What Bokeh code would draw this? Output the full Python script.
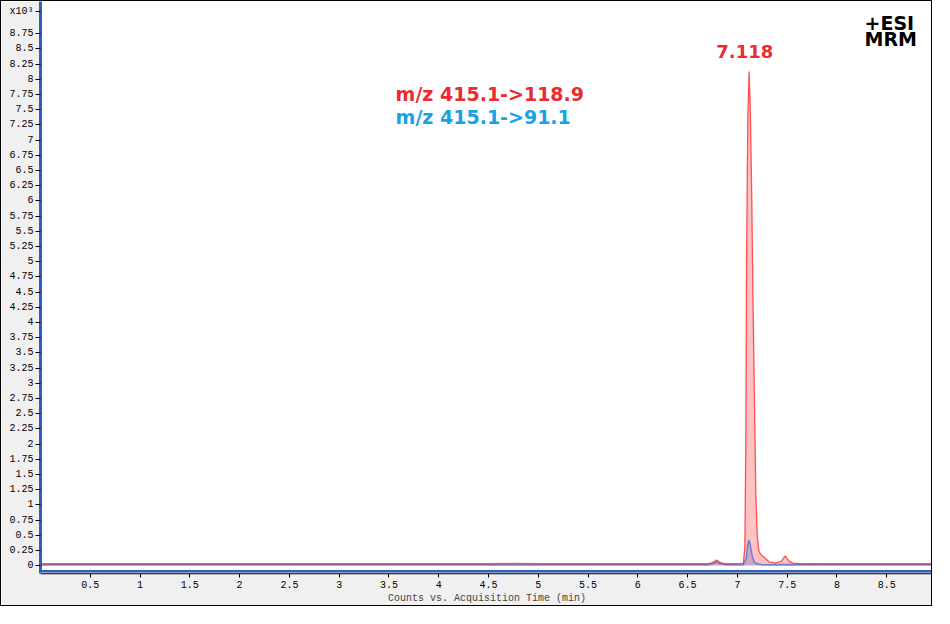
from bokeh.plotting import figure
from bokeh.models import (Label, Span, BoxAnnotation, FixedTicker,
                          CustomJSTickFormatter, ColumnDataSource)
from bokeh.embed import file_html
from bokeh.resources import INLINE

# ---------------- data (counts x10^3 vs time, min) ----------------
time_red = [0.0, 0.5, 1.0, 1.5, 2.0, 2.5, 3.0, 3.5, 4.0, 4.5, 4.75, 5.0, 5.5, 6.0,
            6.5, 6.7, 6.75, 6.79, 6.83, 6.88, 7.0, 7.06, 7.075, 7.085, 7.092,
            7.105, 7.118, 7.13, 7.145, 7.158, 7.17, 7.185, 7.2, 7.215, 7.235,
            7.26, 7.28, 7.32, 7.38, 7.44, 7.48, 7.52, 7.56, 7.65, 8.0, 8.5, 8.97]
counts_red = [0.03, 0.03, 0.03, 0.03, 0.03, 0.03, 0.03, 0.03, 0.03, 0.03, 0.035, 0.03, 0.03, 0.03,
              0.03, 0.03, 0.05, 0.09, 0.05, 0.03, 0.03, 0.04, 0.3, 2.0, 5.0,
              7.4, 8.13, 7.5, 6.0, 4.2, 2.9, 1.2, 0.5, 0.25, 0.18,
              0.15, 0.12, 0.06, 0.04, 0.07, 0.16, 0.07, 0.04, 0.03, 0.03, 0.03, 0.03]

time_blue = [0.0, 1.0, 2.0, 3.0, 4.0, 5.0, 6.0, 6.7, 6.75, 6.79, 6.83, 6.9, 7.06,
             7.09, 7.105, 7.117, 7.13, 7.15, 7.17, 7.2, 7.25, 7.5, 8.0, 8.97]
counts_blue = [0.015, 0.015, 0.015, 0.015, 0.015, 0.015, 0.015, 0.015, 0.03, 0.06, 0.03, 0.015, 0.015,
               0.12, 0.35, 0.42, 0.33, 0.15, 0.06, 0.03, 0.015, 0.02, 0.015, 0.015]

x_ticks = [0.5, 1, 1.5, 2, 2.5, 3, 3.5, 4, 4.5, 5, 5.5, 6, 6.5, 7, 7.5, 8, 8.5]
x_tick_labels = ["0.5", "1", "1.5", "2", "2.5", "3", "3.5", "4", "4.5", "5", "5.5",
                 "6", "6.5", "7", "7.5", "8", "8.5"]
y_ticks = [0, 0.25, 0.5, 0.75, 1, 1.25, 1.5, 1.75, 2, 2.25, 2.5, 2.75, 3, 3.25, 3.5,
           3.75, 4, 4.25, 4.5, 4.75, 5, 5.25, 5.5, 5.75, 6, 6.25, 6.5, 6.75, 7, 7.25,
           7.5, 7.75, 8, 8.25, 8.5, 8.75]
y_tick_labels = ["0", "0.25", "0.5", "0.75", "1", "1.25", "1.5", "1.75", "2", "2.25",
                 "2.5", "2.75", "3", "3.25", "3.5", "3.75", "4", "4.25", "4.5", "4.75",
                 "5", "5.25", "5.5", "5.75", "6", "6.25", "6.5", "6.75", "7", "7.25",
                 "7.5", "7.75", "8", "8.25", "8.5", "8.75"]
# axis multiplier shown at the top of the y axis
scale_tick = [9.12]
scale_label = ["x10\u00b3"]

peak_rt = "7.118"
trace_names = ["m/z 415.1->118.9", "m/z 415.1->91.1"]
mode_texts = ["+ESI", "MRM"]

# ---------------- figure ----------------
MONO = "Liberation Mono"
BOLD = "DejaVu Sans"

p = figure(width=932, height=606, x_range=(0, 8.97), y_range=(-0.13, 9.28),
           output_backend="svg", toolbar_location=None,
           min_border_left=39, min_border_right=0, min_border_top=0, min_border_bottom=34)
p.styles = {"border": "1px solid #000000"}
p.border_fill_color = "#f0f0f0"
p.background_fill_color = "#ffffff"
p.outline_line_color = None
p.grid.visible = False

fmt_js = ("const i = tv.findIndex(t => Math.abs(t - tick) < 1e-9);"
          "return i >= 0 ? tl[i] : '';")

p.xaxis.ticker = FixedTicker(ticks=x_ticks)
p.xaxis.formatter = CustomJSTickFormatter(args=dict(tv=x_ticks, tl=x_tick_labels), code=fmt_js)
p.yaxis.ticker = FixedTicker(ticks=y_ticks + scale_tick)
p.yaxis.formatter = CustomJSTickFormatter(args=dict(tv=y_ticks + scale_tick,
                                                    tl=y_tick_labels + scale_label), code=fmt_js)

for ax in (p.xaxis[0], p.yaxis[0]):
    ax.major_label_text_font = MONO
    ax.major_label_text_font_size = "10px"
    ax.major_label_text_color = "#000000"
    ax.major_tick_in = 0
    ax.minor_tick_line_color = None
    ax.major_tick_line_color = "#000000"

p.xaxis.major_tick_out = 4
p.xaxis.axis_line_color = "#000000"
p.xaxis.axis_line_width = 1.5
p.xaxis.major_label_standoff = 3
p.xaxis.axis_label = "Counts vs. Acquisition Time (min)"
p.xaxis.axis_label_text_font = MONO
p.xaxis.axis_label_text_font_size = "10px"
p.xaxis.axis_label_text_font_style = "normal"
p.xaxis.axis_label_standoff = 2

p.yaxis.major_tick_out = 5
p.yaxis.axis_line_color = "#2f5fb8"
p.yaxis.axis_line_width = 3
p.yaxis.major_label_standoff = 2

# bottom blue frame line with grey gap below it
p.add_layout(BoxAnnotation(bottom=-0.13, top=-0.11, fill_color="#f0f0f0",
                           fill_alpha=1, line_alpha=0))
p.add_layout(Span(location=-0.092, dimension="width", line_color="#2f5fb8", line_width=2.5))

# traces
src_r = ColumnDataSource(dict(t=time_red, c=counts_red))
src_b = ColumnDataSource(dict(t=time_blue, c=counts_blue))
p.varea(x="t", y1=0, y2="c", source=src_r, fill_color="#ff9a9a", fill_alpha=0.6)
p.varea(x="t", y1=0, y2="c", source=src_b, fill_color="#6a78d0", fill_alpha=0.35)
p.line(x="t", y="c", source=src_b, line_color="#6a7fd0", line_width=1.5)
p.line(x="t", y="c", source=src_r, line_color="#ff2020", line_width=1.3, line_alpha=0.75)

# texts
p.add_layout(Label(x=7.074, y=8.46, text=peak_rt, text_font=BOLD, text_font_style="bold",
                   text_font_size="18px", text_color="#ee2a2f", text_align="center",
                   text_baseline="alphabetic"))
p.add_layout(Label(x=3.567, y=7.755, text=trace_names[0], text_font=BOLD, text_font_style="bold",
                   text_font_size="19px", text_color="#ee2a2f", text_baseline="alphabetic"))
p.add_layout(Label(x=3.567, y=7.38, text=trace_names[1], text_font=BOLD, text_font_style="bold",
                   text_font_size="19px", text_color="#17a2e6", text_baseline="alphabetic"))
p.add_layout(Label(x=8.277, y=8.92, text=mode_texts[0], text_font=BOLD, text_font_style="bold",
                   text_font_size="19px", text_color="#000000", text_baseline="alphabetic"))
p.add_layout(Label(x=8.277, y=8.66, text=mode_texts[1], text_font=BOLD, text_font_style="bold",
                   text_font_size="19px", text_color="#000000", text_baseline="alphabetic"))

open("out.html", "w").write(file_html(p, INLINE))
